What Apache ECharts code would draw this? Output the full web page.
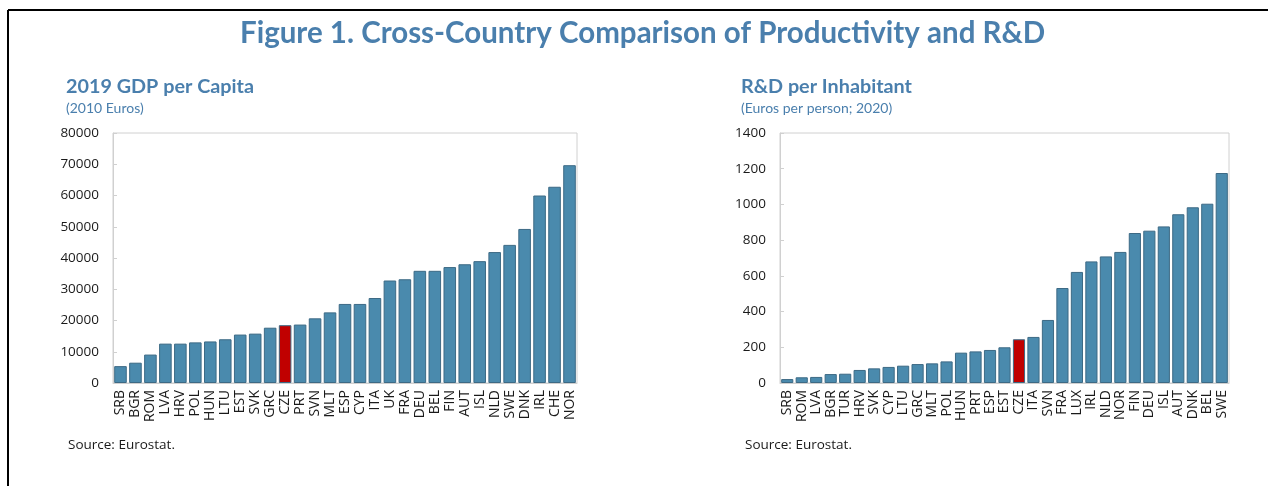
<!DOCTYPE html>
<html><head><meta charset="utf-8">
<script src="https://cdn.jsdelivr.net/npm/echarts@6/dist/echarts.min.js"></script>
<style>html,body{margin:0;padding:0;background:#fff}#c{width:1268px;height:486px}</style>
</head><body><div id="c"></div>
<script>
const gdpCountries = ['SRB','BGR','ROM','LVA','HRV','POL','HUN','LTU','EST','SVK','GRC','CZE','PRT','SVN','MLT','ESP','CYP','ITA','UK','FRA','DEU','BEL','FIN','AUT','ISL','NLD','SWE','DNK','IRL','CHE','NOR'];
const gdpValues = [5400,6500,9100,12600,12600,13000,13300,14000,15500,15800,17700,18500,18700,20700,22600,25300,25300,27200,32800,33200,35900,35900,37100,38000,39000,41900,44200,49300,60000,62800,69700];
const rdCountries = ['SRB','ROM','LVA','BGR','TUR','HRV','SVK','CYP','LTU','GRC','MLT','POL','HUN','PRT','ESP','EST','CZE','ITA','SVN','FRA','LUX','IRL','NLD','NOR','FIN','DEU','ISL','AUT','DNK','BEL','SWE'];
const rdValues = [22,32,34,50,52,73,82,90,97,106,110,121,170,177,185,200,245,258,353,532,622,681,709,734,840,853,877,945,984,1004,1176];
const gdpTicks = [0,10000,20000,30000,40000,50000,60000,70000,80000];
const rdTicks = [0,200,400,600,800,1000,1200,1400];
const highlight = 'CZE';

const BLUE = '#4a8aad', RED = '#c00000', TITLE = '#4a7fad';
const chart = echarts.init(document.getElementById('c'));
function barData(cats, vals){
  return vals.map((v,i)=>({value:v, itemStyle:{color: cats[i]===highlight?RED:BLUE}}));
}
function yAxis(idx, ticks){
  return {type:'value', gridIndex:idx, min:ticks[0], max:ticks[ticks.length-1], interval:ticks[1]-ticks[0],
    axisLine:{show:true, lineStyle:{color:'#d0d0d0'}}, axisTick:{show:true, inside:true, length:4, lineStyle:{color:'#d0d0d0'}},
    splitLine:{show:false}, axisLabel:{color:'#1a1a1a', fontFamily:'Open Sans', fontSize:13.5, margin:14, formatter:v=>String(v)}};
}
function xAxis(idx, cats){
  return {type:'category', gridIndex:idx, data:cats, axisLine:{show:true, lineStyle:{color:'#d0d0d0'}}, axisTick:{show:false},
    axisLabel:{rotate:90, interval:0, color:'#1a1a1a', fontFamily:'Open Sans', fontSize:14, margin:7}};
}
const sub = {color:TITLE, fontFamily:'Lato', fontWeight:'bold', fontSize:19.8};
const subsub = {color:TITLE, fontFamily:'Lato', fontSize:14};
const src = {color:'#1a1a1a', fontFamily:'Open Sans', fontWeight:'normal', fontSize:13.5};
chart.setOption({
  animation:false,
  title:[
    {text:'Figure 1. Cross-Country Comparison of Productivity and R&D', left:240, top:18, padding:0,
      textStyle:{color:TITLE, fontFamily:'Lato', fontWeight:'bold', fontSize:29.5}},
    {text:'2019 GDP per Capita', subtext:'(2010 Euros)', left:66, top:77, itemGap:4, padding:0, textStyle:sub, subtextStyle:subsub},
    {text:'R&D per Inhabitant', subtext:'(Euros per person; 2020)', left:741, top:77, itemGap:4, padding:0, textStyle:sub, subtextStyle:subsub},
    {text:'Source: Eurostat.', left:68, top:438, padding:0, textStyle:src},
    {text:'Source: Eurostat.', left:745, top:438, padding:0, textStyle:src}
  ],
  graphic:[
    {type:'line', shape:{x1:8, y1:10, x2:1268, y2:10}, style:{stroke:'#000', lineWidth:2}},
    {type:'line', shape:{x1:8, y1:10, x2:8, y2:486}, style:{stroke:'#000', lineWidth:2}}
  ],
  grid:[
    {left:113, top:133, width:464, height:250, show:true, borderColor:'#d0d0d0', borderWidth:1},
    {left:780, top:133, width:449, height:250, show:true, borderColor:'#d0d0d0', borderWidth:1}
  ],
  xAxis:[xAxis(0,gdpCountries), xAxis(1,rdCountries)],
  yAxis:[yAxis(0,gdpTicks), yAxis(1,rdTicks)],
  series:[
    {type:'bar', xAxisIndex:0, yAxisIndex:0, data:barData(gdpCountries,gdpValues), barCategoryGap:'16%',
      itemStyle:{borderColor:'#3d6a85', borderWidth:1}},
    {type:'bar', xAxisIndex:1, yAxisIndex:1, data:barData(rdCountries,rdValues), barCategoryGap:'16%',
      itemStyle:{borderColor:'#3d6a85', borderWidth:1}}
  ]
});
</script></body></html>
